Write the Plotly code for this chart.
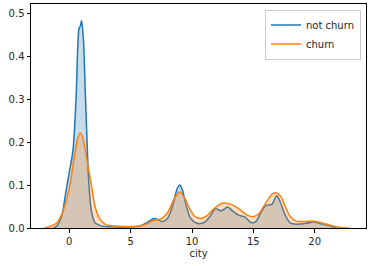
import plotly.graph_objects as go

# not churn (blue) KDE points
nc_x = [-1.3, -1.0, -0.6, -0.3, 0.0, 0.3, 0.55, 0.8, 0.9, 1.0, 1.15, 1.3, 1.45, 1.6, 1.8, 2.1, 2.6, 3.5, 5.0, 5.8,
        6.3, 6.9, 7.2, 7.6, 8.0, 8.4, 8.8, 9.0, 9.2, 9.5, 9.9, 10.4, 11.0, 11.5, 11.9, 12.4, 12.9, 13.3, 13.8,
        14.3, 14.8, 15.2, 15.6, 16.0, 16.5, 16.9, 17.2, 17.6, 18.0, 18.5, 19.3, 19.9, 20.5, 21.0, 21.5, 21.8]
nc_y = [0.0, 0.005, 0.03, 0.08, 0.13, 0.18, 0.30, 0.465, 0.47, 0.483, 0.44, 0.32, 0.2, 0.1, 0.04, 0.012, 0.005,
        0.003, 0.003, 0.005, 0.012, 0.022, 0.02, 0.015, 0.022, 0.05, 0.092, 0.1, 0.09, 0.055, 0.022, 0.011,
        0.013, 0.028, 0.045, 0.04, 0.049, 0.04, 0.03, 0.026, 0.013, 0.015, 0.035, 0.052, 0.055, 0.075, 0.06,
        0.03, 0.012, 0.009, 0.011, 0.014, 0.01, 0.007, 0.003, 0.0]

# churn (orange) KDE points
ch_x = [-2.0, -1.5, -1.0, -0.5, 0.0, 0.4, 0.7, 0.9, 1.1, 1.4, 1.8, 2.1, 2.5, 3.0, 4.0, 5.5, 6.2, 6.8, 7.5, 8.0,
        8.5, 9.0, 9.4, 9.8, 10.2, 10.7, 11.2, 11.8, 12.5, 13.2, 13.8, 14.5, 15.0, 15.5, 16.0, 16.5, 16.8, 17.2,
        17.6, 18.0, 18.5, 19.2, 19.9, 20.5, 21.2, 22.0, 22.8]
ch_y = [0.0, 0.004, 0.012, 0.04, 0.092, 0.165, 0.21, 0.221, 0.21, 0.165, 0.1, 0.05, 0.02, 0.008, 0.004, 0.004,
        0.008, 0.017, 0.022, 0.035, 0.065, 0.084, 0.07, 0.045, 0.028, 0.022, 0.028, 0.045, 0.058, 0.055, 0.045,
        0.03, 0.026, 0.035, 0.058, 0.078, 0.082, 0.075, 0.05, 0.027, 0.016, 0.015, 0.016, 0.012, 0.007, 0.002, 0.0]

x_ticks = [0, 5, 10, 15, 20]
y_ticks = [0.0, 0.1, 0.2, 0.3, 0.4, 0.5]

series = [("not churn", nc_x, nc_y, "#1f77b4", "rgba(31,119,180,0.25)"),
          ("churn", ch_x, ch_y, "#ff7f0e", "rgba(255,127,14,0.25)")]

fig = go.Figure()
for name, xs, ys, col, fcol in series:
    fig.add_trace(go.Scatter(x=xs, y=ys, mode="lines", showlegend=False, hoverinfo="skip",
                             line=dict(width=0, shape="spline", smoothing=0.8),
                             fill="tozeroy", fillcolor=fcol))
    fig.add_trace(go.Scatter(x=xs, y=ys, mode="lines", name=name,
                             line=dict(color=col, width=1.5, shape="spline", smoothing=0.8)))

axis_common = dict(showgrid=False, zeroline=False, showline=True, linecolor="black", linewidth=1,
                   mirror=True, ticks="outside", ticklen=3.5, tickcolor="black",
                   tickfont=dict(family="DejaVu Sans", size=10, color="#262626"))
fig.update_xaxes(range=[-3.12, 24.18], tickvals=x_ticks, ticktext=[str(v) for v in x_ticks],
                 title=dict(text="city", font=dict(family="DejaVu Sans", size=10, color="#262626"), standoff=4),
                 **axis_common)
fig.update_yaxes(range=[0, 0.5216], tickvals=y_ticks, ticktext=[f"{v:.1f}" for v in y_ticks], **axis_common)

fig.update_layout(width=375, height=266, margin=dict(l=31, r=9, t=4, b=38),
                  paper_bgcolor="white", plot_bgcolor="white",
                  legend=dict(x=0.985, y=0.975, xanchor="right", yanchor="top",
                              bordercolor="#cccccc", borderwidth=1, bgcolor="rgba(255,255,255,0.8)",
                              font=dict(family="DejaVu Sans", size=10, color="#262626"),
                              tracegroupgap=0, itemwidth=30))
fig.write_html("out.html")
